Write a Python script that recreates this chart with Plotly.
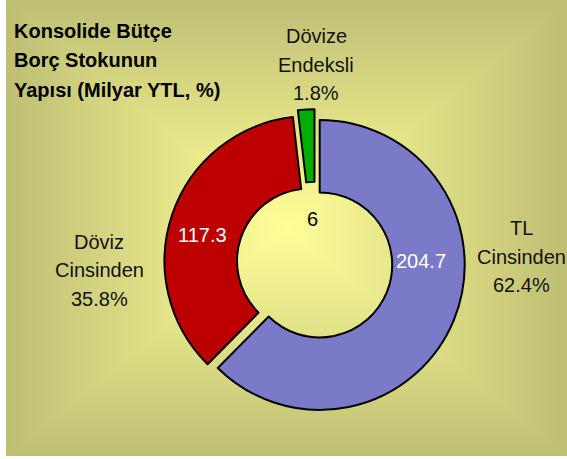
import base64
import struct
import zlib

import numpy as np
import plotly.graph_objects as go

# Chart data
categories = ["TL Cinsinden", "Döviz Cinsinden", "Dövize Endeksli"]
label_lines = [["TL", "Cinsinden"], ["Döviz", "Cinsinden"], ["Dövize", "Endeksli"]]
values = [204.7, 117.3, 6]
percents = ["62.4%", "35.8%", "1.8%"]
title_lines = ["Konsolide Bütçe", "Borç Stokunun", "Yapısı (Milyar YTL, %)"]

W, H = 567, 459

# Styling
slice_colors = ["#7A7AC9", "#BC0000", "#00AE00"]
value_colors = ["white", "white", "black"]
pulls = [0.035, 0.04, 0.06]

# label anchors in pixels (centre x, first line centre y)
label_pos = [(521, 228), (99, 241.5), (316, 36)]
value_pos = [(420.5, 261), (202, 234.5), (312, 219)]
LINE_STEP = 28.7


def px(x, y):
    return x / W, 1 - y / H


def png_data_uri(img):
    h, w, _ = img.shape
    raw = b"".join(b"\x00" + img[r].tobytes() for r in range(h))

    def chunk(tag, data):
        c = struct.pack(">I", len(data)) + tag + data
        return c + struct.pack(">I", zlib.crc32(tag + data) & 0xFFFFFFFF)

    png = (b"\x89PNG\r\n\x1a\n"
           + chunk(b"IHDR", struct.pack(">IIBBBBB", w, h, 8, 2, 0, 0, 0))
           + chunk(b"IDAT", zlib.compress(raw, 9))
           + chunk(b"IEND", b""))
    return "data:image/png;base64," + base64.b64encode(png).decode()


# rectangular "from centre" background fill, like the Excel chart area
bg_w, bg_h = 561, 456
xs = np.abs(np.arange(bg_w) - bg_w / 2) / (bg_w / 2)
ys = np.abs(np.arange(bg_h) - bg_h / 2) / (bg_h / 2)
t = np.maximum(xs[None, :], ys[:, None])
centre = np.array([255, 255, 153], dtype=float)
edge = np.array([191, 191, 117], dtype=float)
bg = (centre[None, None, :] * (1 - t[..., None]) + edge[None, None, :] * t[..., None])
bg = bg.clip(0, 255).astype(np.uint8)

fig = go.Figure()

# pie geometry: centre (315, 263), outer radius 145 px
cx, cy, r = 315, 263, 145
half = r * (1 + max(pulls))
fig.add_trace(go.Pie(
    labels=categories,
    values=values,
    hole=0.5,
    sort=False,
    direction="clockwise",
    rotation=0,
    pull=pulls,
    marker=dict(colors=slice_colors, line=dict(color="black", width=2)),
    textinfo="none",
    hoverinfo="label+value+percent",
    showlegend=False,
    domain=dict(x=[(cx - half) / W, (cx + half) / W],
                y=[(H - cy - half) / H, (H - cy + half) / H]),
))

annotations = []

for i, line in enumerate(title_lines):
    x, y = px(12, 30.5 + i * 29.8)
    annotations.append(dict(
        text=line, x=x, y=y, xanchor="left", yanchor="middle",
        font=dict(family="Liberation Sans, Arial", size=20, color="black", weight="bold"),
    ))

for lines, pct, (lx, ly) in zip(label_lines, percents, label_pos):
    for j, txt in enumerate(lines + [pct]):
        x, y = px(lx, ly + j * LINE_STEP)
        annotations.append(dict(
            text=txt, x=x, y=y, xanchor="center", yanchor="middle",
            font=dict(family="Liberation Sans, Arial", size=20, color="#111111"),
        ))

for v, col, (vx, vy) in zip(values, value_colors, value_pos):
    x, y = px(vx, vy)
    annotations.append(dict(
        text=f"{v:g}", x=x, y=y, xanchor="center", yanchor="middle",
        font=dict(family="Liberation Sans, Arial", size=20, color=col),
    ))

for a in annotations:
    a.update(xref="paper", yref="paper", showarrow=False)

fig.update_layout(
    width=W,
    height=H,
    margin=dict(l=0, r=0, t=0, b=0),
    paper_bgcolor="white",
    annotations=annotations,
    images=[dict(
        source=png_data_uri(bg),
        xref="paper", yref="paper",
        x=6 / W, y=1, sizex=bg_w / W, sizey=bg_h / H,
        xanchor="left", yanchor="top",
        sizing="stretch", layer="below",
    )],
)

# page body has an 8px default margin; drop it so the chart sits at 0,0
fig.write_html(
    "out.html",
    config={"displayModeBar": False},
    post_script="document.body.style.margin='0';document.body.style.overflow='hidden';",
)
